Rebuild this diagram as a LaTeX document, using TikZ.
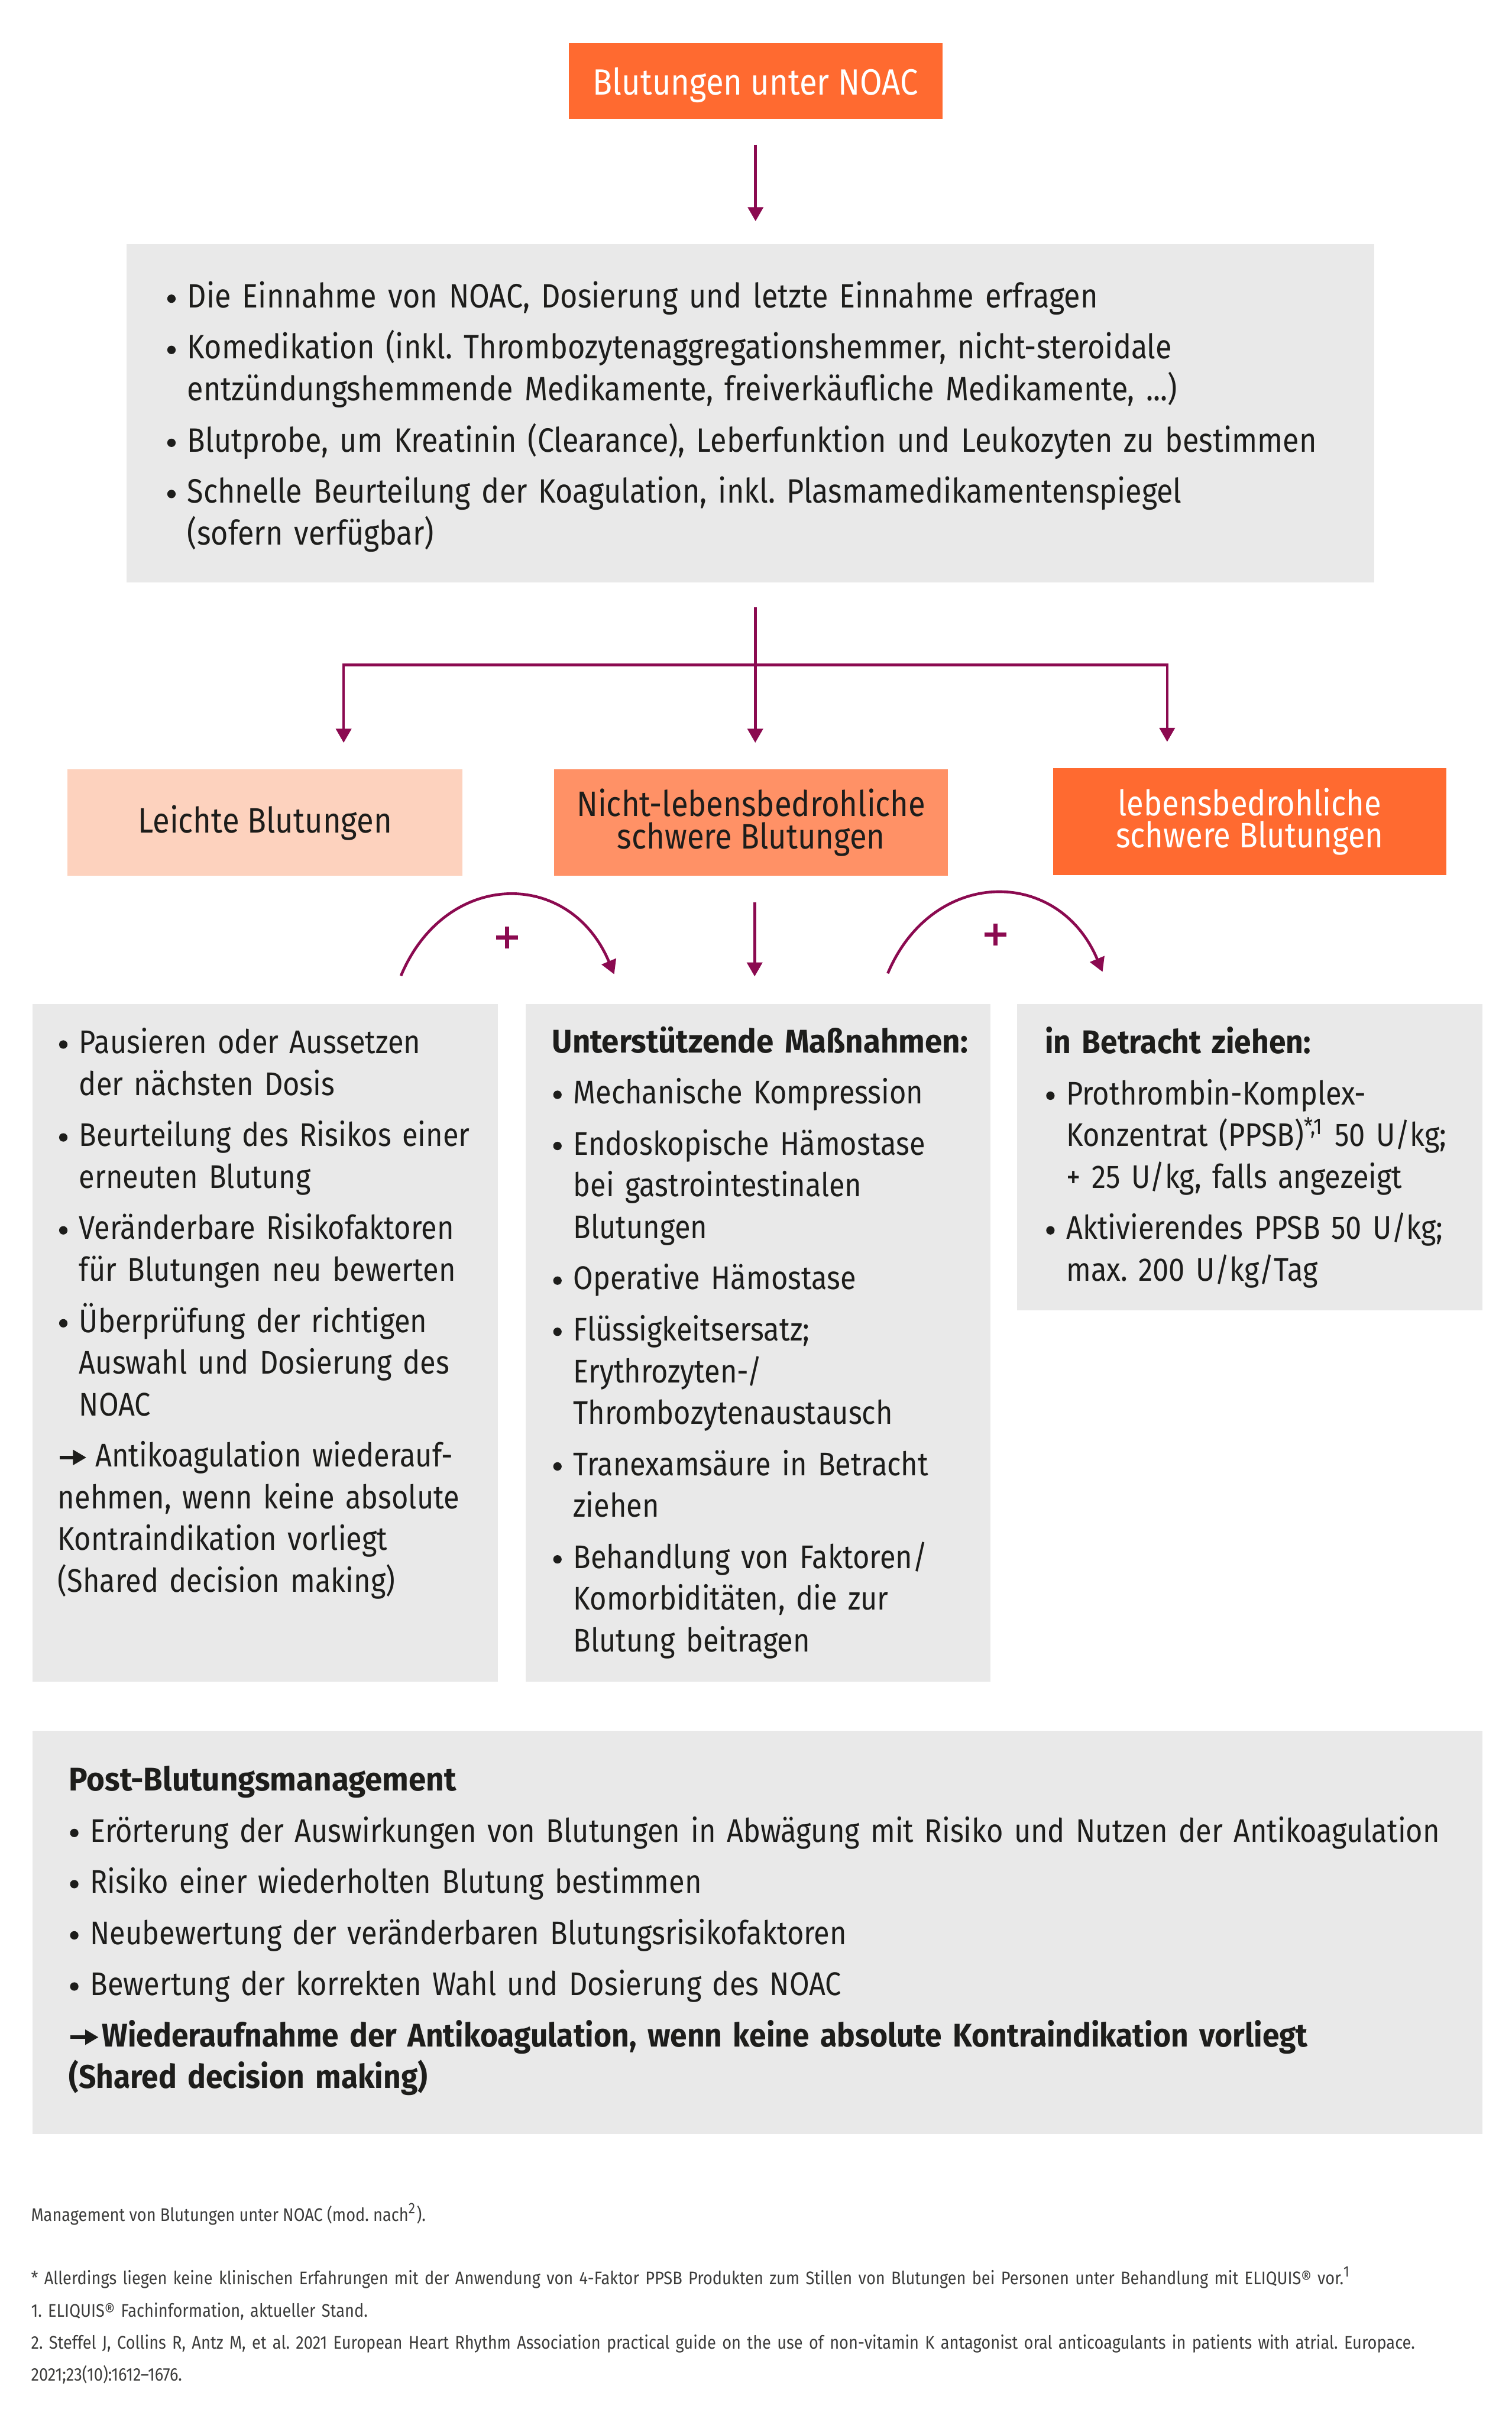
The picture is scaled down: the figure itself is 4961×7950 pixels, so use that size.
\documentclass[tikz,border=0pt]{standalone}
\usepackage{fontspec}
\setmainfont[FakeStretch=0.88]{Fira Sans}
\newfontfamily\hbold[FakeStretch=0.93]{Fira Sans}
\newfontfamily\hhead[FakeStretch=0.955]{Fira Sans}
\usetikzlibrary{arrows.meta}
\definecolor{orng}{HTML}{FF6A30}
\definecolor{salmon}{HTML}{FF9166}
\definecolor{peach}{HTML}{FDD2BE}
\definecolor{greybox}{HTML}{E9E9E9}
\definecolor{plum}{HTML}{8B0A50}
\definecolor{ink}{HTML}{1D1D1B}
\definecolor{fnink}{HTML}{3C3C3B}
\newlength\bind \setlength\bind{7pt}
\newcommand\bdot{\tikz[baseline=0pt]\fill[ink] (1.38pt,2.95pt) circle (1.38pt);}
\newcommand\bitem[1]{\hangindent=\bind\hangafter=1\noindent\makebox[\bind][l]{\hspace{0.4pt}\bdot}#1\par}
\newcommand\isep{\vspace{3.1pt}}
\newcommand\fl{\rule{0pt}{9.5pt}}
\newcommand\hb[1]{{\hbold\bfseries #1}}
\newcommand\hh[1]{{\hhead\bfseries #1}}
\newcommand\bodyfont{\fontsize{11.1pt}{13.7pt}\selectfont\frenchspacing}
\newcommand\smallbody{\fontsize{10.75pt}{13.7pt}\selectfont\frenchspacing}
\newcommand\titlefont{\fontsize{12pt}{10.6pt}\selectfont}
\newcommand\rowfont{\fontsize{11.6pt}{10.6pt}\selectfont}
\newcommand\fnfont{\fontsize{6pt}{10.55pt}\selectfont\frenchspacing}
\newcommand\rarr[1]{\tikz[baseline=-3.1pt]\draw[ink,line width=1.1pt,-{Triangle[length=4.4pt,width=4.8pt]}](0,0)--(#1,0);}
\begin{document}
\begin{tikzpicture}[x=0.1pt,y=-0.1pt,
  boxs/.style={rectangle, draw=none, inner sep=0pt, outer sep=0pt},
  conn/.style={plum, line width=0.9pt},
  arr/.style={conn, -{Triangle[length=4.6pt,width=5pt]}},
  plus/.style={plum, line width=1.4pt},
  txt/.style={anchor=north west, inner sep=0pt, outer sep=0pt, text=ink, align=left, font=\smallbody},
  fn/.style={anchor=north west, inner sep=0pt, outer sep=0pt, text=fnink, align=left, font=\fnfont}]
\useasboundingbox (0,0) rectangle (4961,7950);

% boxes
\node[boxs, fill=orng, minimum width=122.6pt, minimum height=25pt, text=white, font=\titlefont, text depth=0pt] (top) at (2480,266) {Blutungen unter NOAC};
\node[boxs, fill=greybox, minimum width=409.4pt, minimum height=111.1pt] (info) at (2463,1356.5) {};
\node[boxs, fill=peach, minimum width=129.6pt, minimum height=35pt, text=ink, font=\rowfont] (mild) at (870,2700) {Leichte Blutungen};
\node[boxs, fill=salmon, minimum width=129.3pt, minimum height=35pt, text=ink, font=\rowfont, align=center] (moderate) at (2465.5,2700) {Nicht-lebensbedrohliche\\schwere Blutungen};
\node[boxs, fill=orng, minimum width=129.2pt, minimum height=35pt, text=white, font=\rowfont, align=center] (severe) at (4102,2697) {lebensbedrohliche\\schwere Blutungen};
\node[boxs, fill=greybox, minimum width=152.7pt, minimum height=222.3pt] (leftbox) at (870.5,4407.5) {};
\node[boxs, fill=greybox, minimum width=152.6pt, minimum height=222.3pt] (midbox) at (2488,4407.5) {};
\node[boxs, fill=greybox, minimum width=152.7pt, minimum height=100.6pt] (rightbox) at (4102.5,3799) {};
\node[boxs, fill=greybox, minimum width=475.9pt, minimum height=132.4pt] (post) at (2486.5,6343) {};

% connectors
\draw[arr, shorten <=8.4pt, shorten >=7.5pt] (top.south) -- (top.south |- info.north);
\coordinate (fork) at (2479,2182);
\coordinate (forkL) at (1128,2182);
\coordinate (forkR) at (3831,2182);
\draw[conn, shorten <=8.2pt] (info.south -| fork) -- (fork);
\draw[conn, line cap=rect] (forkL) -- (forkR);
\draw[arr, shorten >=8.7pt] (forkL) -- (forkL |- mild.north);
\draw[arr, shorten >=8.7pt] (fork) -- (fork |- moderate.north);
\draw[arr, shorten >=8.7pt] (forkR) -- (forkR |- severe.north);
\coordinate (mx) at (2477,2900);
\draw[arr, shorten <=8.7pt, shorten >=9.1pt] (moderate.south -| mx) -- (midbox.north -| mx);
\coordinate (c1s) at (1316,3203);
\coordinate (c1e) at (2016,3198);
\draw[arr] (c1s) .. controls +(146,-349) and +(-146,-349) .. (c1e);
\coordinate (c2s) at (2914,3195);
\coordinate (c2e) at (3619,3190);
\draw[arr] (c2s) .. controls +(146,-347) and +(-146,-347) .. (c2e);
\draw[plus] (1664,3042) -- (1664,3114) (1628,3078) -- (1700,3078);
\draw[plus] (3267,3031) -- (3267,3103) (3231,3067) -- (3303,3067);

% texts
\node[txt, font=\bodyfont, text width=450pt] (infotext) at (545,915) {%
\bitem{\fl Die Einnahme von NOAC, Dosierung und letzte Einnahme erfragen}\isep
\bitem{Komedikation (inkl.\ Thrombozytenaggregationshemmer, nicht-steroidale\newline entzündungshemmende Medikamente, freiverkäufliche Medikamente, ...)}\isep
\bitem{Blutprobe, um Kreatinin (Clearance), Leberfunktion und Leukozyten zu bestimmen}\isep
\bitem{Schnelle Beurteilung der Koagulation, inkl.\ Plasmamedikamentenspiegel\newline (sofern verfügbar)}};

\node[txt, text width=200pt] (lefttext) at (190,3363) {%
\bitem{\fl Pausieren oder Aussetzen\newline der nächsten Dosis}\isep
\bitem{Beurteilung des Risikos einer\newline erneuten Blutung}\isep
\bitem{Veränderbare Risikofaktoren\newline für Blutungen neu bewerten}\isep
\bitem{Überprüfung der richtigen\newline Auswahl und Dosierung des\newline NOAC}\isep
\noindent\rarr{8.8pt}\hspace{2.4pt}Antikoagulation wiederauf-\newline nehmen, wenn keine absolute\newline Kontraindikation vorliegt\newline (Shared decision making)\par};

\node[txt, text width=200pt] (midtext) at (1812,3360) {%
\noindent\fl\hh{Unterstützende Maßnahmen:}\par\isep
\bitem{Mechanische Kompression}\isep
\bitem{Endoskopische Hämostase\newline bei gastrointestinalen\newline Blutungen}\isep
\bitem{Operative Hämostase}\isep
\bitem{Flüssigkeitsersatz;\newline Erythrozyten-/\newline Thrombozytenaustausch}\isep
\bitem{Tranexamsäure in Betracht\newline ziehen}\isep
\bitem{Behandlung von Faktoren/\newline Komorbiditäten, die zur\newline Blutung beitragen}};

\node[txt, text width=200pt] (righttext) at (3430,3363) {%
\noindent\fl\hb{in Betracht ziehen:}\par\isep
\bitem{Prothrombin-Komplex-\newline Konzentrat (PPSB)\textsuperscript{*,1} 50 U/kg;\newline + 25 U/kg, falls angezeigt}\isep
\bitem{Aktivierendes PPSB 50 U/kg;\newline max. 200 U/kg/Tag}};

\node[txt, text width=500pt] (posttext) at (226,5783) {%
\noindent\fl\hh{Post-Blutungsmanagement}\par\isep
\bitem{Erörterung der Auswirkungen von Blutungen in Abwägung mit Risiko und Nutzen der Antikoagulation}\isep
\bitem{Risiko einer wiederholten Blutung bestimmen}\isep
\bitem{Neubewertung der veränderbaren Blutungsrisikofaktoren}\isep
\bitem{Bewertung der korrekten Wahl und Dosierung des NOAC}\isep
\noindent\rarr{9.2pt}\hspace{0.6pt}\hb{Wiederaufnahme der Antikoagulation, wenn keine absolute Kontraindikation vorliegt\newline (Shared decision making)}\par};

% footnotes
\node[fn] (caption) at (102,7231) {\rule{0pt}{6pt}Management von Blutungen unter NOAC (mod. nach\textsuperscript{2}).};
\node[fn, text width=480pt] (notes) at (102,7439) {\rule{0pt}{6pt}* Allerdings liegen keine klinischen Erfahrungen mit der Anwendung von 4-Faktor PPSB Produkten zum Stillen von Blutungen bei Personen unter Behandlung mit ELIQUIS® vor.\textsuperscript{1}\newline 1. ELIQUIS® Fachinformation, aktueller Stand.\newline 2. Steffel J, Collins R, Antz M, et al. 2021 European Heart Rhythm Association practical guide on the use of non-vitamin K antagonist oral anticoagulants in patients with atrial. Europace.\newline 2021;23(10):1612–1676.};
\end{tikzpicture}
\end{document}
